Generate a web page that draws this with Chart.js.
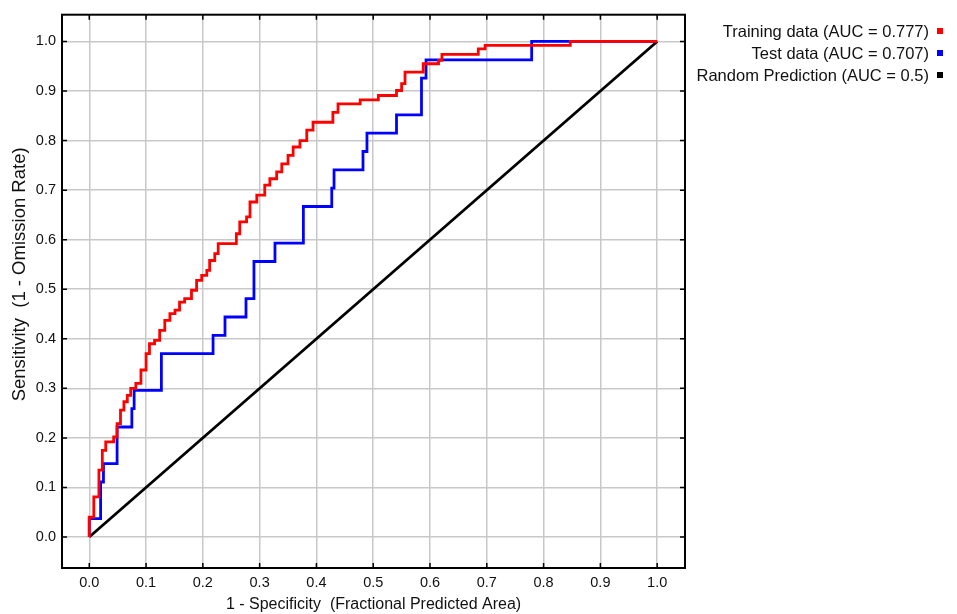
<!DOCTYPE html>
<html>
<head>
<meta charset="utf-8">
<script src="https://cdn.jsdelivr.net/npm/chart.js@4.4.1/dist/chart.umd.min.js"></script>
<style>
  html, body { margin: 0; padding: 0; background: #fff; }
  #wrap { position: relative; width: 957px; height: 614px; }
  #legend {
    position: absolute; right: 14px; top: 20px;
    font-family: "Liberation Sans", Arial, sans-serif; font-size: 16.5px; color: #111;
    text-align: right; line-height: 22px;
  }
  #legend .sw { display: inline-block; width: 6px; height: 6px; margin-left: 8px; vertical-align: 3px; }
</style>
</head>
<body>
<div id="wrap">
  <canvas id="rocChart" width="957" height="614"></canvas>
  <div id="legend"></div>
</div>
<script>
// axis ticks
const tickValues = [0, 0.1, 0.2, 0.3, 0.4, 0.5, 0.6, 0.7, 0.8, 0.9, 1.0];
const tickLabels = ['0.0', '0.1', '0.2', '0.3', '0.4', '0.5', '0.6', '0.7', '0.8', '0.9', '1.0'];

// training ROC (1 - specificity, sensitivity), step corners
const trainX = [0, 0, 0.008, 0.017, 0.023, 0.029, 0.043, 0.049, 0.055, 0.061, 0.067, 0.073, 0.082, 0.091,
  0.100, 0.106, 0.115, 0.124, 0.133, 0.142, 0.151, 0.159, 0.168, 0.180, 0.189, 0.198, 0.207, 0.212, 0.221,
  0.227, 0.259, 0.265, 0.277, 0.283, 0.295, 0.309, 0.318, 0.330, 0.339, 0.350, 0.359, 0.371, 0.383, 0.394,
  0.429, 0.438, 0.477, 0.509, 0.541, 0.550, 0.556, 0.588, 0.615, 0.621, 0.685, 0.697, 0.847, 1.0];
const trainY = [0, 0.04, 0.081, 0.135, 0.175, 0.192, 0.202, 0.229, 0.256, 0.273, 0.286, 0.300, 0.310, 0.337,
  0.370, 0.390, 0.397, 0.417, 0.437, 0.451, 0.458, 0.474, 0.481, 0.498, 0.518, 0.528, 0.538, 0.558, 0.572,
  0.592, 0.612, 0.636, 0.646, 0.676, 0.690, 0.710, 0.723, 0.737, 0.753, 0.770, 0.787, 0.800, 0.821, 0.837,
  0.857, 0.874, 0.882, 0.891, 0.901, 0.915, 0.938, 0.955, 0.962, 0.974, 0.985, 0.992, 1.0, 1.0];

// test ROC
const testX = [0, 0, 0.020, 0.025, 0.049, 0.075, 0.079, 0.127, 0.218, 0.239, 0.276, 0.290, 0.327, 0.377,
  0.427, 0.431, 0.482, 0.489, 0.541, 0.585, 0.593, 0.779, 1.0];
const testY = [0, 0.037, 0.111, 0.148, 0.222, 0.259, 0.296, 0.370, 0.407, 0.444, 0.481, 0.556, 0.593, 0.667,
  0.704, 0.741, 0.778, 0.815, 0.852, 0.926, 0.963, 1.0, 1.0];

// random prediction
const randomX = [0, 1];
const randomY = [0, 1];

const seriesNames = ['Training data (AUC = 0.777)', 'Test data (AUC = 0.707)', 'Random Prediction (AUC = 0.5)'];
const seriesColors = ['#ff0000', '#0000ff', '#000000'];
const yTitle = 'Sensitivity  (1 - Omission Rate)';

const FONT = '"Liberation Sans", Arial, sans-serif';

function toPoints(xs, ys) {
  return xs.map((x, i) => ({ x: x, y: ys[i] }));
}

// frame with inward tick marks on all four sides, plus the y title
const framePlugin = {
  id: 'frame',
  afterDraw(chart) {
    const ctx = chart.ctx;
    const a = chart.chartArea;
    const xs = chart.scales.x;
    const ys = chart.scales.y;
    ctx.save();
    ctx.strokeStyle = '#000';
    ctx.lineWidth = 1.5;
    ctx.beginPath();
    tickValues.forEach(v => {
      const px = xs.getPixelForValue(v);
      ctx.moveTo(px, a.bottom); ctx.lineTo(px, a.bottom - 5);
      ctx.moveTo(px, a.top); ctx.lineTo(px, a.top + 5);
      const py = ys.getPixelForValue(v);
      ctx.moveTo(a.left, py); ctx.lineTo(a.left + 5, py);
      ctx.moveTo(a.right, py); ctx.lineTo(a.right - 5, py);
    });
    ctx.stroke();
    ctx.lineWidth = 2;
    ctx.strokeRect(a.left, a.top, a.right - a.left, a.bottom - a.top);

    // y title sits a bit above the plot centre in the original
    ctx.translate(20, ys.getPixelForValue(0.53));
    ctx.rotate(-Math.PI / 2);
    ctx.fillStyle = '#111';
    ctx.font = '18.5px ' + FONT;
    ctx.textAlign = 'center';
    ctx.textBaseline = 'middle';
    ctx.fillText(yTitle, 0, 0);
    ctx.restore();
  }
};

function axisOptions(min, max) {
  return {
    type: 'linear',
    min: min,
    max: max,
    afterBuildTicks: scale => { scale.ticks = tickValues.map(v => ({ value: v })); },
    ticks: {
      color: '#111',
      font: { family: FONT, size: 14.5 },
      padding: 6,
      callback: (v) => tickLabels[tickValues.indexOf(Math.round(v * 10) / 10)]
    },
    grid: { color: '#c8c8c8', lineWidth: 1.5, drawTicks: false },
    border: { display: false }
  };
}

function createRocChart() {
  const canvas = document.getElementById('rocChart');
  const ctx = canvas.getContext('2d');

  const xAxis = axisOptions(-0.048, 1.049);
  xAxis.title = {
    display: true, text: '1 - Specificity  (Fractional Predicted Area)',
    color: '#111', font: { family: FONT, size: 16 }, padding: 0
  };
  xAxis.afterFit = scale => { scale.height = 46; };
  const yAxis = axisOptions(-0.0625, 1.054);
  yAxis.afterFit = scale => { scale.width = 62; };

  new Chart(ctx, {
    type: 'scatter',
    data: {
      datasets: [
        { label: seriesNames[0], data: toPoints(trainX, trainY), borderColor: seriesColors[0], stepped: 'before' },
        { label: seriesNames[1], data: toPoints(testX, testY), borderColor: seriesColors[1], stepped: 'before' },
        { label: seriesNames[2], data: toPoints(randomX, randomY), borderColor: seriesColors[2] }
      ].map(d => Object.assign(d, { showLine: true, pointRadius: 0, borderWidth: 2.8, fill: false }))
    },
    options: {
      responsive: false,
      animation: false,
      layout: { padding: { top: 14, right: 272, left: 0, bottom: 0 } },
      plugins: {
        legend: { display: false },
        tooltip: { enabled: false }
      },
      scales: { x: xAxis, y: yAxis }
    },
    plugins: [framePlugin]
  });

  document.getElementById('legend').innerHTML = seriesNames.map((n, i) =>
    '<div>' + n + '<span class="sw" style="background:' + seriesColors[i] + '"></span></div>').join('');
}

createRocChart();
</script>
</body>
</html>
